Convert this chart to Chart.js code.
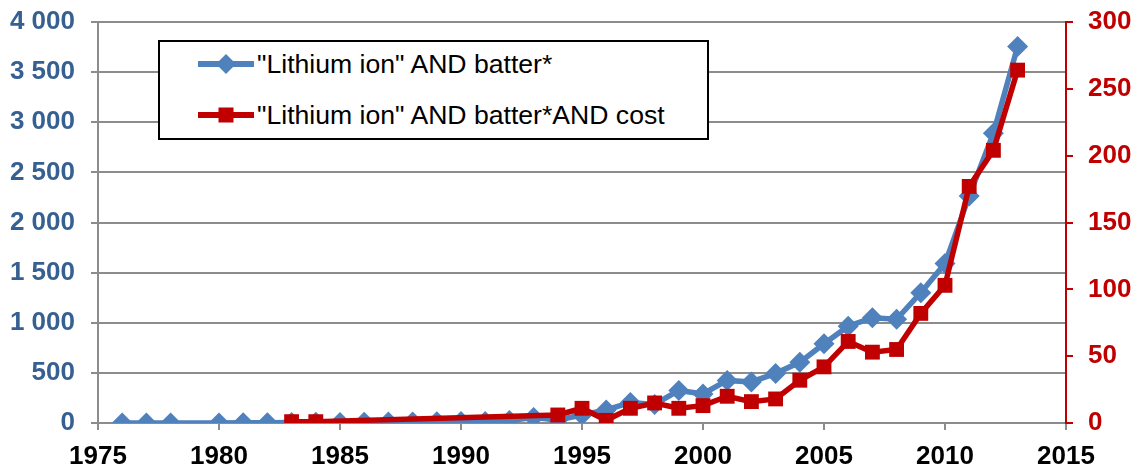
<!DOCTYPE html>
<html>
<head>
<meta charset="utf-8">
<script src="https://cdn.jsdelivr.net/npm/chart.js@4/dist/chart.umd.min.js"></script>
<style>
  html, body { margin: 0; padding: 0; background: #fff; }
  #wrap { position: relative; width: 1136px; height: 471px; }
  #legend {
    position: absolute; left: 158px; top: 40px; width: 547px; height: 96px;
    border: 2px solid #000; background: #fff;
    font-family: "Liberation Sans", Arial, sans-serif; font-size: 26.6px; color: #000;
  }
  .row { position: absolute; left: 38px; height: 30px; display: flex; align-items: center; }
  .row svg { display: block; }
  .row span { margin-left: 3px; white-space: nowrap; }
</style>
</head>
<body>
<div id="wrap">
  <canvas id="c" width="1136" height="471"></canvas>
  <div id="legend">
    <div class="row" style="top:7px"><svg width="56" height="24"><line x1="1" y1="12" x2="55" y2="12" stroke="#4F81BD" stroke-width="6" stroke-linecap="round"/><polygon points="28,2 38,12 28,22 18,12" fill="#4F81BD"/></svg><span>"Lithium ion" AND batter*</span></div>
    <div class="row" style="top:58px"><svg width="56" height="24"><line x1="1" y1="12" x2="55" y2="12" stroke="#C00000" stroke-width="6" stroke-linecap="round"/><rect x="20.5" y="4.5" width="15" height="15" fill="#C00000"/></svg><span>"Lithium ion" AND batter*AND cost</span></div>
  </div>
</div>
<script>
// ---- data ----
const seriesAllLabel = '"Lithium ion" AND batter*';
const seriesCostLabel = '"Lithium ion" AND batter*AND cost';

const allYears = [1976,1977,1978,1980,1981,1982,1983,1984,1985,1986,1987,1988,1989,1990,1991,1992,1993,1994,1995,1996,1997,1998,1999,2000,2001,2002,2003,2004,2005,2006,2007,2008,2009,2010,2011,2012,2013];
const allValues = [0,0,0,0,2,3,5,8,6,8,10,10,12,14,15,25,55,30,80,130,205,185,325,290,425,410,495,605,790,965,1050,1035,1300,1590,2265,2890,3755];

const costYears = [1983,1984,1994,1995,1996,1997,1998,1999,2000,2001,2002,2003,2004,2005,2006,2007,2008,2009,2010,2011,2012,2013];
const costValues = [1,1,6,11,2,11,15,11,13,20,16,18,32,42,61,53,55,82,103,177,204,264];

const xMin = 1975, xMax = 2015, xStep = 5;
const leftMax = 4000, leftStep = 500;
const rightMax = 300, rightStep = 50;

// ---- chart ----
const blue = '#4F81BD', red = '#C00000', gridGray = '#8C8C8C';
const tickFont = { family: '"Liberation Sans", Arial, sans-serif', size: 26, weight: 'bold' };
const toPoints = (xs, ys) => xs.map((x, i) => ({ x: x, y: ys[i] }));
const spaced = v => String(v).replace(/\B(?=(\d{3})+(?!\d))/g, ' ');
const noPad = s => { s.paddingTop = 0; s.paddingBottom = 0; s.paddingLeft = 0; s.paddingRight = 0; };

new Chart(document.getElementById('c'), {
  type: 'line',
  data: {
    datasets: [
      {
        label: seriesCostLabel,
        data: toPoints(costYears, costValues),
        yAxisID: 'y1',
        borderColor: red, backgroundColor: red,
        borderWidth: 5.5, tension: 0,
        pointStyle: 'rect', pointRadius: 10.5, pointBorderWidth: 0,
        pointBackgroundColor: red,
        order: 0
      },
      {
        label: seriesAllLabel,
        data: toPoints(allYears, allValues),
        yAxisID: 'y',
        borderColor: blue, backgroundColor: blue,
        borderWidth: 5.5, tension: 0,
        pointStyle: 'rectRot', pointRadius: 10.5, pointBorderWidth: 0,
        pointBackgroundColor: blue,
        order: 1
      }
    ]
  },
  options: {
    responsive: false,
    animation: false,
    devicePixelRatio: 1,
    layout: { padding: { top: 22, left: 0, right: 0, bottom: 0 } },
    plugins: { legend: { display: false }, tooltip: { enabled: false } },
    scales: {
      x: {
        type: 'linear', min: xMin, max: xMax,
        ticks: { stepSize: xStep, font: tickFont, color: '#000', padding: 11, maxRotation: 0, callback: v => String(v) },
        grid: { drawOnChartArea: false, drawTicks: true, tickLength: 7, color: gridGray, lineWidth: 2 },
        border: { color: gridGray, width: 2 },
        afterFit: s => { s.height = 48; noPad(s); }
      },
      y: {
        position: 'left', min: 0, max: leftMax,
        ticks: { stepSize: leftStep, font: tickFont, color: '#376092', padding: 16, callback: v => spaced(v) },
        grid: { color: gridGray, lineWidth: 2, tickLength: 7 },
        border: { color: gridGray, width: 2 },
        afterFit: s => { s.width = 98; noPad(s); }
      },
      y1: {
        position: 'right', min: 0, max: rightMax,
        ticks: { stepSize: rightStep, font: tickFont, color: red, padding: 15 },
        grid: { drawOnChartArea: false, color: red, lineWidth: 2, tickLength: 7 },
        border: { color: red, width: 2 },
        afterFit: s => { s.width = 70; noPad(s); }
      }
    }
  }
});
</script>
</body>
</html>
